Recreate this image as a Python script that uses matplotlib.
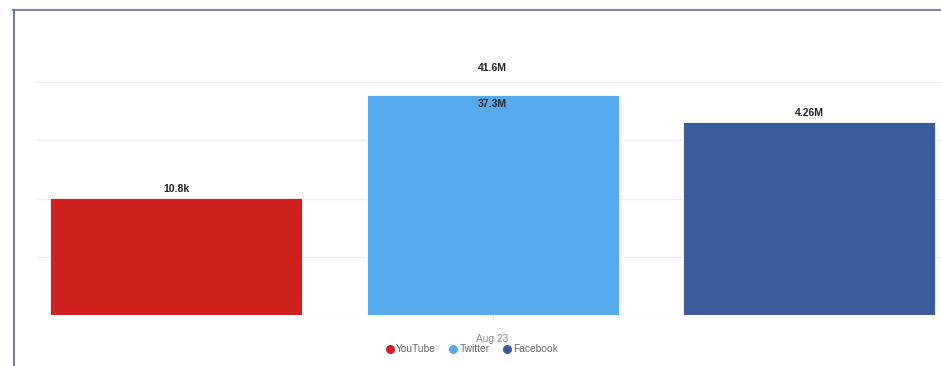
import matplotlib.pyplot as plt
import numpy as np
from matplotlib.lines import Line2D

# data
platforms = ['YouTube', 'Twitter', 'Facebook']
followers = [10.8e3, 37.3e6, 4.26e6]
value_labels = ['10.8k', '37.3M', '4.26M']
total_label = '41.6M'
period = 'Aug 23'
colors = ['#cf201f', '#56abee', '#3b5b9b']

plt.rcParams['font.family'] = ['Liberation Sans', 'DejaVu Sans']

W, H = 941, 366
fig = plt.figure(figsize=(W / 100, H / 100), dpi=100)

# axes placed in pixel coords
left, right, bottom, top = 37, 941, 315, 50
ax = fig.add_axes([left / W, 1 - bottom / H, (right - left) / W, (bottom - top) / H])

px_per_unit = 316.5
x = np.arange(len(platforms))
ax.bar(x, followers, width=252 / px_per_unit, color=colors, bottom=1,
       edgecolor='white', linewidth=0.6)
ax.set_yscale('log')
ax.set_ylim(1, 10 ** ((bottom - top) / 29.1))
ax.set_xlim(-(176 - left) / px_per_unit, (right - 176) / px_per_unit)

ax.set_yticks([1e0, 1e2, 1e4, 1e6, 1e8])
ax.yaxis.set_minor_locator(plt.NullLocator())
ax.grid(axis='y', color='#efefef', linewidth=1)
ax.set_axisbelow(True)
ax.tick_params(axis='y', left=False, labelleft=False)
ax.set_xticks([1])
ax.set_xticklabels([period], color='#888888', fontsize=7.3)
ax.tick_params(axis='x', length=3, color='#dddddd', pad=11)
for s in ax.spines.values():
    s.set_visible(False)

# value labels
lab_kw = dict(textcoords='offset points', ha='center', va='center',
              fontsize=7.5, fontweight='bold', color='#222222')
for i, (v, lab) in enumerate(zip(followers, value_labels)):
    off = -6.5 if i == 1 else 6.5
    ax.annotate(lab, (i, v), xytext=(0, off), **lab_kw)
ax.annotate(total_label, (1, followers[1]), xytext=(0, 19.5), **lab_kw)

# legend
handles = [Line2D([], [], marker='o', linestyle='', markersize=5.5,
                  markerfacecolor=c, markeredgecolor=c) for c in colors]
fig.legend(handles, platforms, loc='center', bbox_to_anchor=(472 / W, 1 - 349.5 / H),
           ncol=3, frameon=False, fontsize=7.4, labelcolor='#666666',
           handletextpad=0.2, columnspacing=1.3, handlelength=0.8, borderpad=0)

# frame lines
fig.add_artist(Line2D([13 / W, 1], [1 - 10 / H, 1 - 10 / H], color='#7f8b99', linewidth=1.5))
fig.add_artist(Line2D([14 / W, 14 / W], [0, 1 - 10 / H], color='#5c6880', linewidth=1.2))

fig.savefig('out.png', dpi=100)
